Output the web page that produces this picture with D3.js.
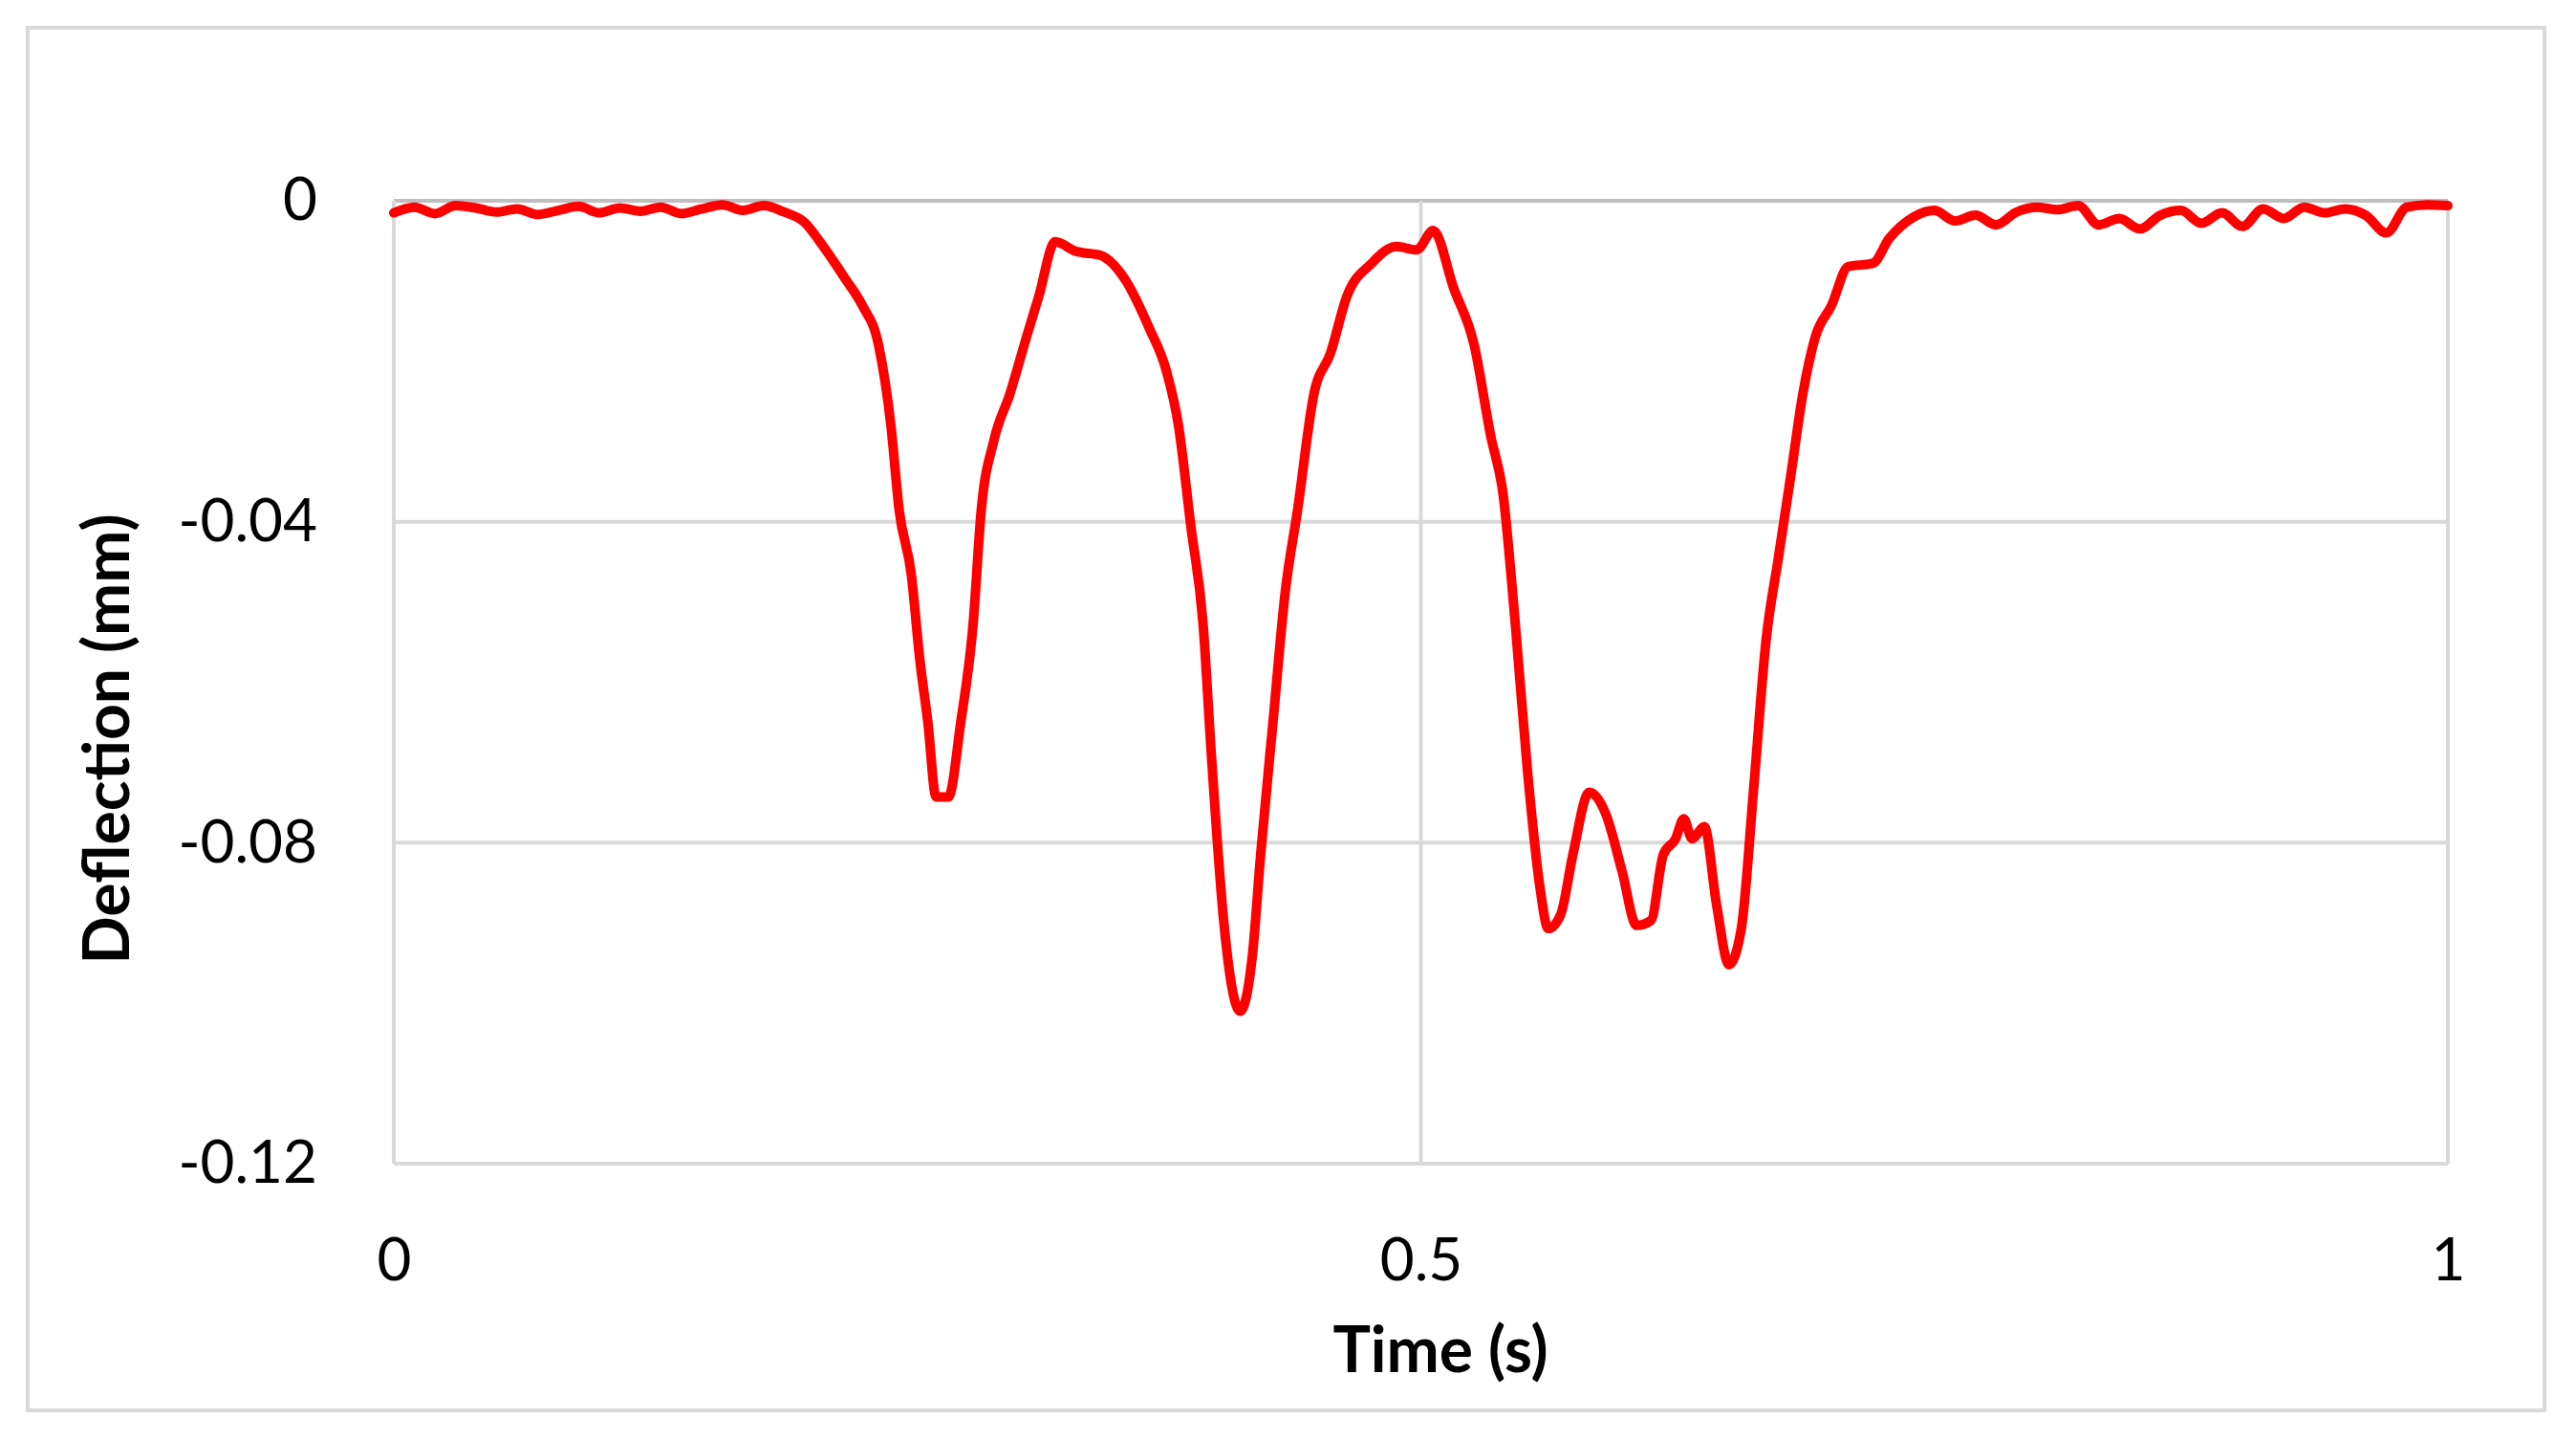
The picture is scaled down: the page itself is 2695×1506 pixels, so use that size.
<!DOCTYPE html>
<html>
<head>
<meta charset="utf-8">
<script src="https://cdn.jsdelivr.net/npm/d3@7"></script>
<style>
  body { margin: 0; background: #fff; }
  text { font-family: Lato, "Open Sans", sans-serif; }
</style>
</head>
<body>
<div id="chart"></div>
<script>
// deflection trace (time in s, deflection in mm)
const times = [
  0, 0.01, 0.02, 0.03, 0.04, 0.05, 0.06, 0.07, 0.08, 0.09, 0.10, 0.11, 0.12, 0.13, 0.14, 0.15, 0.16, 0.17, 0.18, 0.19,
  0.2, 0.208, 0.22, 0.228, 0.236, 0.242, 0.246, 0.252, 0.256, 0.26, 0.264, 0.27, 0.276, 0.282, 0.286, 0.292, 0.3, 0.308,
  0.314, 0.322, 0.332, 0.344, 0.356, 0.368, 0.376, 0.382, 0.388, 0.394, 0.398, 0.404, 0.408, 0.412, 0.418, 0.422, 0.428,
  0.434, 0.44, 0.448, 0.456, 0.464, 0.476, 0.488, 0.498, 0.506, 0.516, 0.526, 0.534, 0.54, 0.546, 0.552, 0.558, 0.562,
  0.568, 0.574, 0.582, 0.59, 0.598, 0.605, 0.612, 0.618, 0.624, 0.628, 0.632, 0.638, 0.644, 0.65, 0.656, 0.662, 0.668,
  0.674, 0.68, 0.686, 0.692, 0.7, 0.708, 0.72, 0.728, 0.74, 0.75, 0.76, 0.77, 0.78, 0.79, 0.8, 0.81, 0.82, 0.83, 0.84,
  0.85, 0.86, 0.87, 0.88, 0.89, 0.9, 0.91, 0.92, 0.93, 0.94, 0.95, 0.96, 0.97, 0.98, 0.99, 1.0
];
const deflection = [
  -0.0015, -0.0008, -0.0016, -0.0006, -0.0009, -0.0014, -0.0010, -0.0017, -0.0012, -0.0007, -0.0015, -0.0009, -0.0013,
  -0.0008, -0.0016, -0.0010, -0.0005, -0.0012, -0.0006, -0.0014,
  -0.0027, -0.0053, -0.0098, -0.013, -0.018, -0.028, -0.0385, -0.0467, -0.057, -0.065, -0.0743, -0.0743, -0.065, -0.0528,
  -0.0385, -0.030, -0.024, -0.017, -0.0119, -0.0051, -0.0063, -0.0068, -0.0098, -0.016, -0.0211, -0.028, -0.0405, -0.0528,
  -0.069, -0.0897, -0.098, -0.101, -0.094, -0.0815, -0.065, -0.0487, -0.0385, -0.024, -0.019, -0.0119, -0.0078, -0.0057,
  -0.0061, -0.0037, -0.0109, -0.018, -0.0293, -0.0365, -0.0528, -0.0713, -0.0856, -0.0907, -0.089, -0.0815, -0.0737,
  -0.0764, -0.0836, -0.0903, -0.0897, -0.0815, -0.0795, -0.077, -0.0795, -0.078, -0.0878, -0.0952, -0.0907, -0.0733,
  -0.0549, -0.0446, -0.0344, -0.024, -0.017, -0.013, -0.0082, -0.0078, -0.0047, -0.0020, -0.0012, -0.0025, -0.0018,
  -0.0030, -0.0014, -0.0008, -0.0011, -0.0006, -0.0030, -0.0022, -0.0035, -0.0018, -0.0012, -0.0028, -0.0015, -0.0032,
  -0.0010, -0.0022, -0.0008, -0.0015, -0.0010, -0.0018, -0.0040, -0.0008, -0.0005, -0.0006, -0.0012
];
const xTicks = [0, 0.5, 1];
const yTicks = [0, -0.04, -0.08, -0.12];
const xTitle = "Time (s)";
const yTitle = "Deflection (mm)";

const data = times.map((t, i) => ({ t: t, v: deflection[i] }));

const width = 2695, height = 1506;
const plot = { left: 412, right: 2561, top: 210, bottom: 1217 };

const svg = d3.select("#chart").append("svg")
  .attr("width", width)
  .attr("height", height);

svg.append("rect")
  .attr("x", 29).attr("y", 29)
  .attr("width", 2633).attr("height", 1446)
  .attr("fill", "none")
  .attr("stroke", "#d9d9d9")
  .attr("stroke-width", 4);

const x = d3.scaleLinear().domain([0, 1]).range([plot.left, plot.right]);
const y = d3.scaleLinear().domain([-0.12, 0]).range([plot.bottom, plot.top]);

// grid
svg.append("g")
  .selectAll("line.h")
  .data(yTicks)
  .join("line")
  .attr("x1", plot.left).attr("x2", plot.right)
  .attr("y1", d => y(d)).attr("y2", d => y(d))
  .attr("stroke", d => d === 0 ? "#bfbfbf" : "#d9d9d9")
  .attr("stroke-width", 4);

svg.append("g")
  .selectAll("line.v")
  .data(xTicks)
  .join("line")
  .attr("x1", d => x(d)).attr("x2", d => x(d))
  .attr("y1", plot.top).attr("y2", plot.bottom)
  .attr("stroke", "#d9d9d9")
  .attr("stroke-width", 4);

// axes labels
const yAxis = d3.axisLeft(y).tickValues(yTicks).tickSize(0).tickPadding(0)
  .tickFormat(d => d === 0 ? "0" : String(d).replace("0.", "-0.").replace("--", "-"));
svg.append("g")
  .attr("transform", `translate(${plot.left - 80},0)`)
  .call(yAxis)
  .call(g => g.select(".domain").remove())
  .selectAll("text")
  .attr("font-size", 62)
  .attr("fill", "#000")
  .style("font-family", "Lato, sans-serif");

const xAxis = d3.axisBottom(x).tickValues(xTicks).tickSize(0).tickPadding(0)
  .tickFormat(d3.format("~g"));
svg.append("g")
  .attr("transform", `translate(0,${plot.bottom + 78})`)
  .call(xAxis)
  .call(g => g.select(".domain").remove())
  .selectAll("text")
  .attr("font-size", 62)
  .attr("fill", "#000")
  .style("font-family", "Lato, sans-serif");

svg.append("text")
  .attr("x", 1507).attr("y", 1435)
  .attr("text-anchor", "middle")
  .attr("font-size", 66)
  .attr("font-weight", "bold")
  .text(xTitle);

svg.append("text")
  .attr("transform", "translate(135,773) rotate(-90)")
  .attr("text-anchor", "middle")
  .attr("font-size", 66)
  .attr("font-weight", "bold")
  .text(yTitle);

// trace
const line = d3.line()
  .x(d => x(d.t))
  .y(d => y(d.v))
  .curve(d3.curveMonotoneX);

svg.append("path")
  .datum(data)
  .attr("d", line)
  .attr("fill", "none")
  .attr("stroke", "#ff0000")
  .attr("stroke-width", 10)
  .attr("stroke-linejoin", "round")
  .attr("stroke-linecap", "round");
</script>
</body>
</html>
